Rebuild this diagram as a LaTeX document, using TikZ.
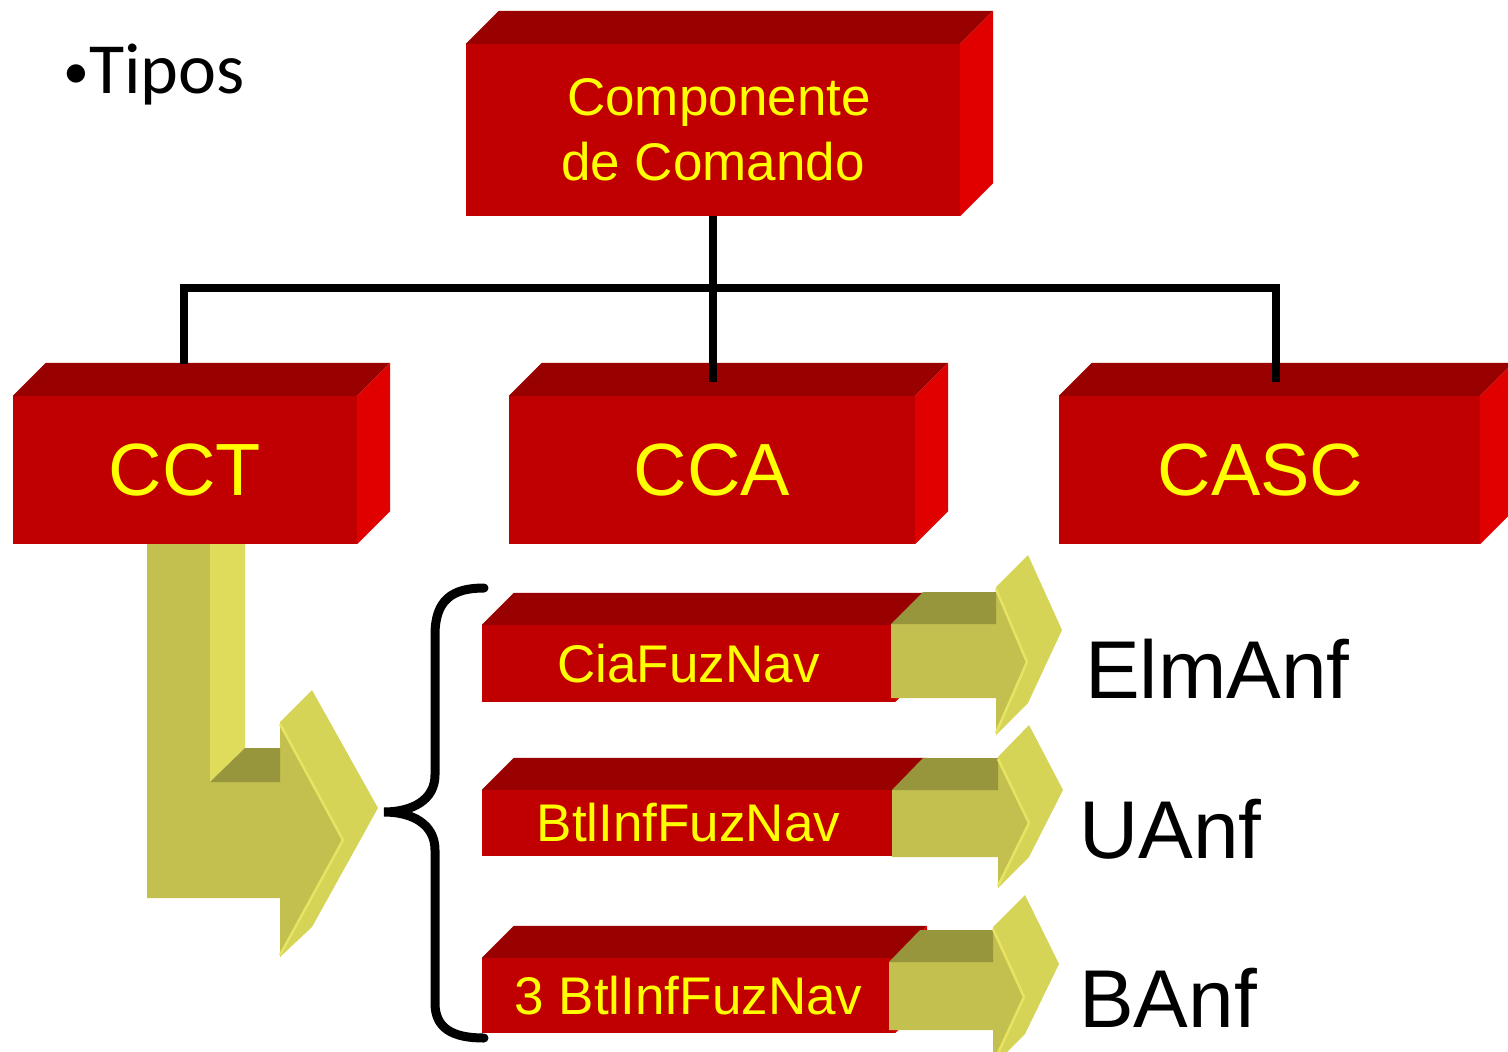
\documentclass[tikz,border=0pt]{standalone}
\usepackage{fontspec}
\setmainfont{Liberation Sans}
\newfontfamily\calib{Carlito}
\definecolor{fred}{HTML}{C00000}
\definecolor{tred}{HTML}{990000}
\definecolor{sred}{HTML}{E00000}
\definecolor{ytxt}{HTML}{FFFF00}
\definecolor{ofront}{HTML}{C3C050}
\definecolor{olight}{HTML}{DEDC5A}
\definecolor{ohead}{HTML}{D6D456}
\definecolor{odark}{HTML}{98963C}
\definecolor{ohl}{HTML}{E6E462}
\tikzset{
  front/.style={fill=fred, inner sep=0pt, text=ytxt, align=center},
  bigfont/.style={font=\fontsize{74}{80}\selectfont},
  midfont/.style={font=\fontsize{53}{65}\selectfont},
  link/.style={line width=8pt, draw=black, line join=miter},
  sidetext/.style={font=\fontsize{82}{90}\selectfont, anchor=base west, inner sep=0pt},
  redtop/.style={fill=tred},
  redside/.style={fill=sred},
  hl/.style={draw=ohl, line width=2.5pt, line join=round}
}
\newcommand\redsides[2]{%
  \fill[redtop] (#1.north west) -- ++(#2,-#2) -- ([shift={(#2,-#2)}]#1.north east) -- (#1.north east) -- cycle;
  \fill[redside] (#1.north east) -- ++(#2,-#2) -- ([shift={(#2,-#2)}]#1.south east) -- (#1.south east) -- cycle;
}
\begin{document}
\begin{tikzpicture}[x=1pt,y=-1pt]
\useasboundingbox (0,0) rectangle (1508,1052);

% title
\node[font=\calib\fontsize{72}{80}\selectfont, anchor=base west, inner sep=0pt] (tipos) at (63,93) {\raisebox{5pt}{\scalebox{0.72}{•}}Tipos};

% big L arrow
\fill[ofront] (147,540) -- (210,540) -- (210,782) -- (280,782) -- (280,722) -- (343,840) -- (280,957) -- (280,898) -- (147,898) -- cycle;
\fill[olight] (210,540) -- (245,540) -- (245,748) -- (210,782) -- cycle;
\fill[odark] (210,782) -- (245,748) -- (280,748) -- (280,782) -- cycle;
\fill[ohead] (280,722) -- (312,690) -- (378,808) -- (312,927) -- (280,957) -- (343,840) -- cycle;
\draw[hl] (280,724) -- (343,840) -- (280,955);

% main boxes
\node[front, midfont, minimum width=494pt, minimum height=172pt] (cmd) at (713,130) {\hspace*{12pt}Componente\\de Comando};
\redsides{cmd}{33}
\node[front, bigfont, minimum width=344pt, minimum height=148pt] (cct) at (185,470) {CCT};
\redsides{cct}{33}
\node[front, bigfont, minimum width=406pt, minimum height=148pt] (cca) at (712,470) {CCA};
\redsides{cca}{33}
\node[front, bigfont, minimum width=421pt, minimum height=148pt] (casc) at (1269.5,470) {CASC\kern18pt};
\redsides{casc}{33}

% small boxes
\node[front, midfont, minimum width=413pt, minimum height=77pt] (cia) at (688.5,663.5) {CiaFuzNav};
\redsides{cia}{32}
\node[front, midfont, minimum width=413pt, minimum height=66pt] (btl) at (688.5,823) {BtlInfFuzNav};
\redsides{btl}{32}
\node[front, midfont, minimum width=413pt, minimum height=75pt] (btlb) at (688.5,995.5) {3 BtlInfFuzNav};
\redsides{btlb}{32}

% small arrows
\fill[ofront] (891,624) -- (996,624) -- (996,587) -- (1027,662) -- (996,735) -- (996,698) -- (891,698) -- cycle;
\fill[odark] (891,624) -- (923,592) -- (996,592) -- (996,624) -- cycle;
\fill[ohead] (996,587) -- (1028,555) -- (1062,630) -- (1028,703) -- (996,735) -- (1027,662) -- cycle;
\draw[hl] (996,589) -- (1027,662) -- (996,733);

\fill[ofront] (892,790) -- (998,790) -- (998,757) -- (1029,823) -- (998,888) -- (998,857) -- (892,857) -- cycle;
\fill[odark] (892,790) -- (923,758) -- (998,758) -- (998,790) -- cycle;
\fill[ohead] (998,757) -- (1029,725) -- (1063,790) -- (1029,857) -- (998,888) -- (1029,823) -- cycle;
\draw[hl] (998,759) -- (1029,823) -- (998,886);

\fill[ofront] (889,962) -- (993,962) -- (993,927) -- (1024,997) -- (993,1066) -- (993,1030) -- (889,1030) -- cycle;
\fill[odark] (889,962) -- (920,930) -- (993,930) -- (993,962) -- cycle;
\fill[ohead] (993,927) -- (1025,895) -- (1059,964) -- (1025,1034) -- (993,1066) -- (1024,997) -- cycle;
\draw[hl] (993,929) -- (1024,997) -- (993,1064);

% right-hand labels
\node[sidetext] (elm) at (1085,698) {ElmAnf};
\node[sidetext] (uanf) at (1079,858) {UAnf};
\node[sidetext] (banf) at (1079,1027) {BAnf};

% connectors
\coordinate (hub) at (cmd.south |- 0,288);
\coordinate (ccain) at ([yshift=14pt]cca.north);
\coordinate (cascin) at ([xshift=6.5pt,yshift=14pt]casc.north);
\coordinate (cctin) at ([xshift=-1pt,yshift=32pt]cct.north);
\draw[link] (cmd.south) -- (cmd.south |- ccain);
\draw[link] (cctin) |- (hub) -| (cascin);

% brace
\draw[line width=9pt, line cap=round] (484,588) .. controls (452,588) and (435,600) .. (435,635) -- (435,775) .. controls (435,800) and (412,812) .. (384,812) .. controls (412,812) and (435,824) .. (435,850) -- (435,1003) .. controls (435,1028) and (452,1038) .. (484,1038);
\end{tikzpicture}
\end{document}
